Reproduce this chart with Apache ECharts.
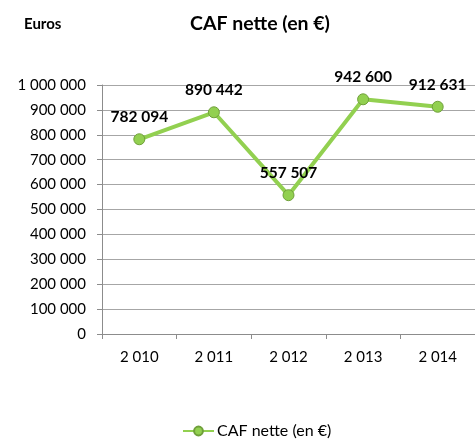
<!DOCTYPE html>
<html>
<head>
<meta charset="utf-8">
<script src="https://cdn.jsdelivr.net/npm/echarts@6/dist/echarts.min.js"></script>
<style>
html, body { margin: 0; padding: 0; background: #fff; }
#chart { width: 475px; height: 441px; }
</style>
</head>
<body>
<div id="chart"></div>
<script>
// données
var annees = ['2 010', '2 011', '2 012', '2 013', '2 014'];
var cafNette = [782094, 890442, 557507, 942600, 912631];
var nomSerie = 'CAF nette (en €)';

function espaces(v) {
    return String(v).replace(/\B(?=(\d{3})+(?!\d))/g, ' ');
}

var myChart = echarts.init(document.getElementById('chart'));
var police = 'Lato, "Open Sans", sans-serif';

var option = {
    animation: false,
    title: [{
        text: nomSerie,
        left: 255,
        top: 9,
        textAlign: 'center',
        textStyle: { fontFamily: police, fontSize: 19.5, fontWeight: 'bold', color: '#000' }
    }, {
        text: 'Euros',
        left: 19,
        top: 12,
        textStyle: { fontFamily: police, fontSize: 15, fontWeight: 'bold', color: '#000' }
    }],
    legend: {
        bottom: -3,
        left: 177,
        itemWidth: 31,
        itemHeight: 11,
        itemGap: 4,
        data: [nomSerie],
        textStyle: { fontFamily: police, fontSize: 16, color: '#000', padding: [0, 0, 0, -2] }
    },
    grid: {
        left: 102,
        right: -2,
        top: 85,
        bottom: 107
    },
    xAxis: {
        type: 'category',
        data: annees,
        boundaryGap: true,
        axisLine: { lineStyle: { color: '#8c8c8c' } },
        axisTick: { show: true, length: 5, lineStyle: { color: '#8c8c8c' } },
        axisLabel: { fontFamily: police, fontSize: 15, color: '#000', margin: 16 }
    },
    yAxis: {
        type: 'value',
        min: 0,
        max: 1000000,
        interval: 100000,
        axisLine: { show: true, lineStyle: { color: '#8c8c8c' } },
        axisTick: { show: true, length: 5, lineStyle: { color: '#8c8c8c' } },
        splitLine: { lineStyle: { color: '#a6a6a6' } },
        axisLabel: {
            fontFamily: police, fontSize: 15, color: '#000', margin: 16,
            formatter: espaces
        }
    },
    series: [{
        name: nomSerie,
        type: 'line',
        data: cafNette,
        symbol: 'circle',
        symbolSize: 11,
        lineStyle: { color: '#92d050', width: 4 },
        itemStyle: { color: '#92d050', borderColor: '#6f9f3a', borderWidth: 1 },
        label: {
            show: true,
            position: 'top',
            distance: 8,
            fontFamily: police,
            fontSize: 15.5,
            fontWeight: 'bold',
            color: '#000',
            formatter: function (p) { return espaces(p.value); }
        }
    }]
};

myChart.setOption(option);
</script>
</body>
</html>
